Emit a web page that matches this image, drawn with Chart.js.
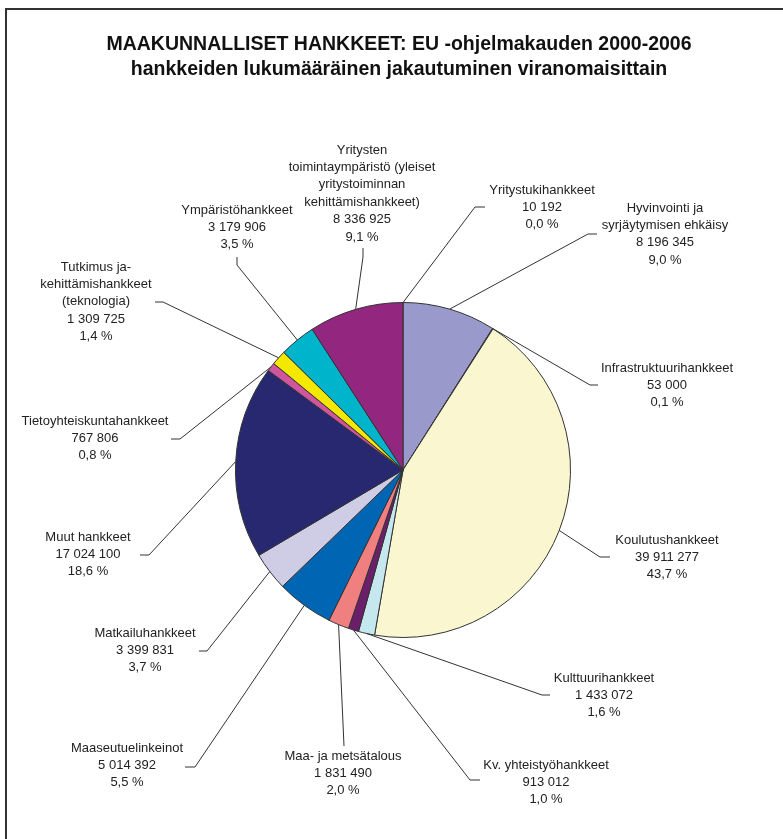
<!DOCTYPE html>
<html>
<head>
<meta charset="utf-8">
<script src="https://cdn.jsdelivr.net/npm/chart.js@4/dist/chart.umd.min.js"></script>
<style>
  html, body { margin: 0; padding: 0; background: #fff; }
  #wrap { width: 783px; height: 839px; position: relative; }
</style>
</head>
<body>
<div id="wrap"><canvas id="hankkeetChart" width="783" height="839"></canvas></div>
<script>
// Otsikko
const titleLines = ['MAAKUNNALLISET HANKKEET: EU -ohjelmakauden 2000-2006',
    'hankkeiden lukumääräinen jakautuminen viranomaisittain'];

// Hankkeiden määrät viranomaisittain
const categories = [
    ['Yritystukihankkeet'],
    ['Hyvinvointi ja', 'syrjäytymisen ehkäisy'],
    ['Infrastruktuurihankkeet'],
    ['Koulutushankkeet'],
    ['Kulttuurihankkeet'],
    ['Kv. yhteistyöhankkeet'],
    ['Maa- ja metsätalous'],
    ['Maaseutuelinkeinot'],
    ['Matkailuhankkeet'],
    ['Muut hankkeet'],
    ['Tietoyhteiskuntahankkeet'],
    ['Tutkimus ja-', 'kehittämishankkeet', '(teknologia)'],
    ['Ympäristöhankkeet'],
    ['Yritysten', 'toimintaympäristö (yleiset', 'yritystoiminnan', 'kehittämishankkeet)']
];
const values = [10192, 8196345, 53000, 39911277, 1433072, 913012, 1831490,
    5014392, 3399831, 17024100, 767806, 1309725, 3179906, 8336925];
const sliceColors = ['#7a3b8c', '#9999cc', '#5c2a6e', '#faf7d0', '#c4e8ee', '#6b1f6b', '#f08080',
    '#0066b3', '#cfcde6', '#282870', '#d0559f', '#f5e800', '#00b4cc', '#93267f'];

// Tekstien paikat: [tekstin keskikohta x, ensimmäisen rivin y, taite x, taite y, pää x, pää y]
const labelLayout = [
    [542, 190, 475, 207, 485, 207],
    [665, 208, 588, 234, 597, 234],
    [667, 368, 590, 385, 598, 385],
    [667, 540, 600, 557, 610, 557],
    [604, 678, 542, 695, 550, 695],
    [546, 765, 470, 780, 480, 780],
    [343, 756, 344, 746, 344, 746],
    [127, 748, 195, 767, 185, 767],
    [145, 633, 207, 651, 199, 651],
    [88, 537, 149, 555, 140, 555],
    [95, 421, 180, 439, 171, 439],
    [96, 267, 163, 302, 155, 302],
    [237, 210, 237, 265, 237, 257],
    [362, 150, 363, 257, 363, 248]
];

const total = values.reduce((a, b) => a + b, 0);

function formatNumber(n) {
    return String(n).replace(/\B(?=(\d{3})+(?!\d))/g, ' ');
}
function formatPercent(v) {
    return (v / total * 100).toFixed(1).replace('.', ',') + ' %';
}

// Kehys, otsikko ja tekstit leader-viivoineen
const labelsPlugin = {
    id: 'sliceLabels',
    beforeDraw(chart) {
        const ctx = chart.ctx;
        ctx.save();
        ctx.fillStyle = '#fff';
        ctx.fillRect(0, 0, chart.width, chart.height);
        ctx.strokeStyle = '#333';
        ctx.lineWidth = 2;
        ctx.beginPath();
        ctx.moveTo(6, 860);
        ctx.lineTo(6, 9);
        ctx.lineTo(800, 9);
        ctx.stroke();

        ctx.fillStyle = '#111';
        ctx.font = 'bold 19.5px "Liberation Sans", Arial, sans-serif';
        ctx.textAlign = 'center';
        ctx.textBaseline = 'middle';
        titleLines.forEach((line, k) => ctx.fillText(line, 399, 45 + k * 25));
        ctx.restore();
    },
    afterDraw(chart) {
        const ctx = chart.ctx;
        const arcs = chart.getDatasetMeta(0).data;
        ctx.save();
        ctx.font = '13px "Liberation Sans", Arial, sans-serif';
        ctx.textAlign = 'center';
        ctx.textBaseline = 'middle';
        arcs.forEach((arc, i) => {
            const p = arc.getProps(['x', 'y', 'startAngle', 'endAngle', 'outerRadius'], true);
            const mid = (p.startAngle + p.endAngle) / 2;
            const sx = p.x + Math.cos(mid) * p.outerRadius;
            const sy = p.y + Math.sin(mid) * p.outerRadius;
            const [tx, ty, ex, ey, fx, fy] = labelLayout[i];

            ctx.strokeStyle = '#333';
            ctx.lineWidth = 1;
            ctx.beginPath();
            ctx.moveTo(sx, sy);
            ctx.lineTo(ex, ey);
            ctx.lineTo(fx, fy);
            ctx.stroke();

            const lines = categories[i].concat([formatNumber(values[i]), formatPercent(values[i])]);
            ctx.fillStyle = '#222';
            lines.forEach((line, k) => {
                ctx.fillText(line, tx, ty + k * 17.4);
            });
        });
        ctx.restore();
    }
};

new Chart(document.getElementById('hankkeetChart').getContext('2d'), {
    type: 'pie',
    data: {
        labels: categories,
        datasets: [{
            data: values,
            backgroundColor: sliceColors,
            borderColor: '#333',
            borderWidth: 1
        }]
    },
    options: {
        responsive: false,
        animation: false,
        layout: {
            padding: { left: 235, right: 212, top: 302, bottom: 201 }
        },
        plugins: {
            legend: { display: false },
            tooltip: { enabled: false },
            title: { display: false }
        }
    },
    plugins: [labelsPlugin]
});
</script>
</body>
</html>
